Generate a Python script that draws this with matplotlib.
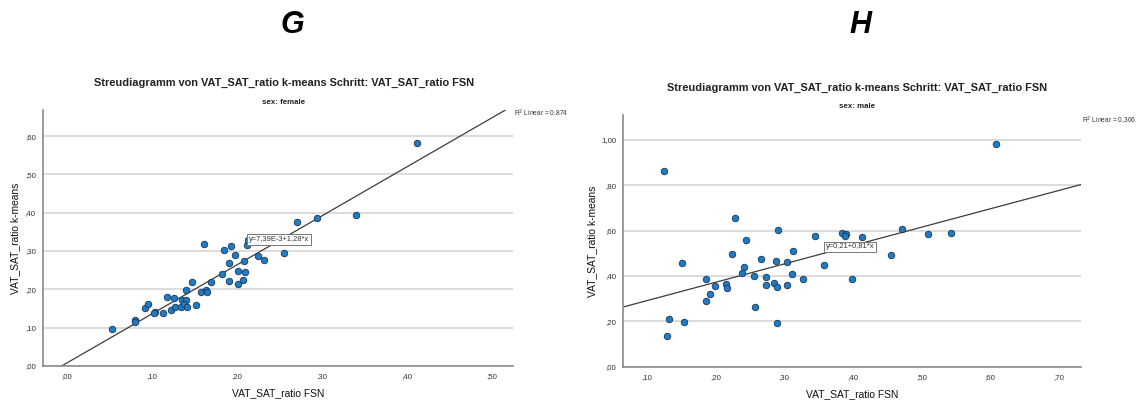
#!/usr/bin/env python3
"""
Streudiagramme VAT_SAT_ratio k-means vs. FSN, getrennt nach Geschlecht (G/H)
"""

import numpy as np
import matplotlib
matplotlib.use('Agg')
import matplotlib.pyplot as plt
from matplotlib.ticker import FixedLocator, FuncFormatter

plt.rcParams['font.family'] = ['Liberation Sans', 'DejaVu Sans']

# --- Daten: female (G) ---
fsn_female = [0.054, 0.080, 0.080, 0.092, 0.096, 0.104, 0.103, 0.113, 0.118, 0.123,
              0.126, 0.128, 0.135, 0.136, 0.140, 0.138, 0.142, 0.140, 0.148, 0.152,
              0.158, 0.162, 0.164, 0.165, 0.170, 0.183, 0.185, 0.191, 0.191, 0.194,
              0.198, 0.202, 0.202, 0.207, 0.210, 0.209, 0.212, 0.213, 0.225, 0.232,
              0.256, 0.271, 0.295, 0.341, 0.412]
kmeans_female = [0.097, 0.120, 0.114, 0.151, 0.163, 0.141, 0.139, 0.139, 0.179, 0.145,
                 0.177, 0.154, 0.154, 0.173, 0.173, 0.163, 0.154, 0.199, 0.219, 0.159,
                 0.192, 0.318, 0.198, 0.192, 0.218, 0.240, 0.303, 0.270, 0.223, 0.313,
                 0.290, 0.215, 0.248, 0.225, 0.245, 0.273, 0.315, 0.329, 0.287, 0.276,
                 0.295, 0.376, 0.387, 0.395, 0.581]

# --- Daten: male (H) ---
fsn_male = [0.125, 0.129, 0.132, 0.152, 0.155, 0.186, 0.186, 0.192, 0.200, 0.216,
            0.217, 0.224, 0.229, 0.239, 0.241, 0.245, 0.256, 0.257, 0.266, 0.273,
            0.274, 0.286, 0.288, 0.290, 0.290, 0.291, 0.305, 0.305, 0.311, 0.313,
            0.328, 0.345, 0.358, 0.384, 0.390, 0.389, 0.399, 0.414, 0.455, 0.472,
            0.510, 0.543, 0.608]
kmeans_male = [0.863, 0.135, 0.209, 0.456, 0.199, 0.387, 0.290, 0.319, 0.357, 0.365,
               0.347, 0.496, 0.654, 0.415, 0.438, 0.559, 0.401, 0.262, 0.474, 0.360,
               0.397, 0.369, 0.466, 0.350, 0.194, 0.601, 0.362, 0.460, 0.407, 0.510,
               0.388, 0.578, 0.449, 0.590, 0.584, 0.576, 0.387, 0.571, 0.494, 0.607,
               0.584, 0.588, 0.981]

# Regressionskoeffizienten (aus SPSS)
fit_female = (7.39e-3, 1.28)
fit_male = (0.21, 0.81)
r2_female = '0,874'
r2_male = '0,306'

TITLE = 'Streudiagramm von VAT_SAT_ratio k-means Schritt: VAT_SAT_ratio FSN'
POINT_COLOR = '#1f7bc6'


def spss_fmt(v, pos=None):
    s = f'{v:.2f}'.replace('.', ',')
    if s.startswith('0,'):
        s = s[1:]
    return s


def draw_panel(ax, x, y, fit, xlim, ylim, xticks, yticks, eq_text, eq_pos):
    ax.set_xlim(*xlim)
    ax.set_ylim(*ylim)

    # Gitterlinien
    for yt in yticks:
        ax.axhline(yt, color='#d9d9d9', lw=1.3, zorder=0)

    # Regressionslinie
    xs = np.linspace(xlim[0], xlim[1], 200)
    ax.plot(xs, fit[0] + fit[1] * xs, color='#3c3c3c', lw=0.9, zorder=2)

    ax.scatter(x, y, s=22, color=POINT_COLOR, edgecolor='#1a3550',
               linewidths=0.6, zorder=3)

    ax.text(eq_pos[0], eq_pos[1], eq_text, fontsize=5.4, color='#333333',
            va='center', ha='left', zorder=4,
            bbox=dict(boxstyle='square,pad=0.25', facecolor='white',
                      edgecolor='#777777', linewidth=0.7))

    ax.xaxis.set_major_locator(FixedLocator(xticks))
    ax.yaxis.set_major_locator(FixedLocator(yticks))
    ax.xaxis.set_major_formatter(FuncFormatter(spss_fmt))
    ax.yaxis.set_major_formatter(FuncFormatter(spss_fmt))
    ax.tick_params(length=0, labelsize=5.7, colors='#333333', pad=5)

    for side in ('top', 'right'):
        ax.spines[side].set_visible(False)
    for side in ('left', 'bottom'):
        ax.spines[side].set_color('#8a8a8a')
        ax.spines[side].set_linewidth(1.2)

    ax.set_xlabel('VAT_SAT_ratio FSN', fontsize=7.4, color='#111111', labelpad=6)
    ax.set_ylabel('VAT_SAT_ratio k-means', fontsize=7.4, color='#111111', labelpad=3)


fig = plt.figure(figsize=(11.45, 4.05), dpi=100)

ax1 = fig.add_axes([0.0373, 0.0963, 0.4107, 0.632])
draw_panel(ax1, fsn_female, kmeans_female, fit_female,
           xlim=(-0.028, 0.525), ylim=(0, 0.668),
           xticks=[0, 0.1, 0.2, 0.3, 0.4, 0.5],
           yticks=[0, 0.1, 0.2, 0.3, 0.4, 0.5, 0.6],
           eq_text='y=7,39E-3+1,28*x', eq_pos=(0.215, 0.331))

ax2 = fig.add_axes([0.5444, 0.0946, 0.3995, 0.6215])
draw_panel(ax2, fsn_male, kmeans_male, fit_male,
           xlim=(0.066, 0.732), ylim=(0, 1.11),
           xticks=[0.1, 0.2, 0.3, 0.4, 0.5, 0.6, 0.7],
           yticks=[0, 0.2, 0.4, 0.6, 0.8, 1.0],
           eq_text='y=0,21+0,81*x', eq_pos=(0.361, 0.528))

# Titel / Untertitel / R²
fig.text(284 / 1145, 1 - 83 / 405, TITLE, ha='center', va='center',
         fontsize=7.9, fontweight='bold', color='#222222')
fig.text(284 / 1145, 1 - 103 / 405, 'sex: female', ha='center', va='center',
         fontsize=5.7, fontweight='bold', color='#222222')
fig.text(857 / 1145, 1 - 88 / 405, TITLE, ha='center', va='center',
         fontsize=7.9, fontweight='bold', color='#222222')
fig.text(857 / 1145, 1 - 107 / 405, 'sex: male', ha='center', va='center',
         fontsize=5.7, fontweight='bold', color='#222222')

fig.text(514 / 1145, 1 - 114 / 405, r'R$^2$ Linear = ' + r2_female,
         ha='left', va='center', fontsize=4.8, color='#333333')
fig.text(1082 / 1145, 1 - 121 / 405, r'R$^2$ Linear = ' + r2_male,
         ha='left', va='center', fontsize=4.8, color='#333333')

# Panel-Buchstaben
fig.text(292 / 1145, 1 - 25 / 405, 'G', ha='center', va='center',
         fontsize=22, fontweight='bold', style='italic')
fig.text(860 / 1145, 1 - 25 / 405, 'H', ha='center', va='center',
         fontsize=22, fontweight='bold', style='italic')

fig.savefig('out.png', dpi=100)
